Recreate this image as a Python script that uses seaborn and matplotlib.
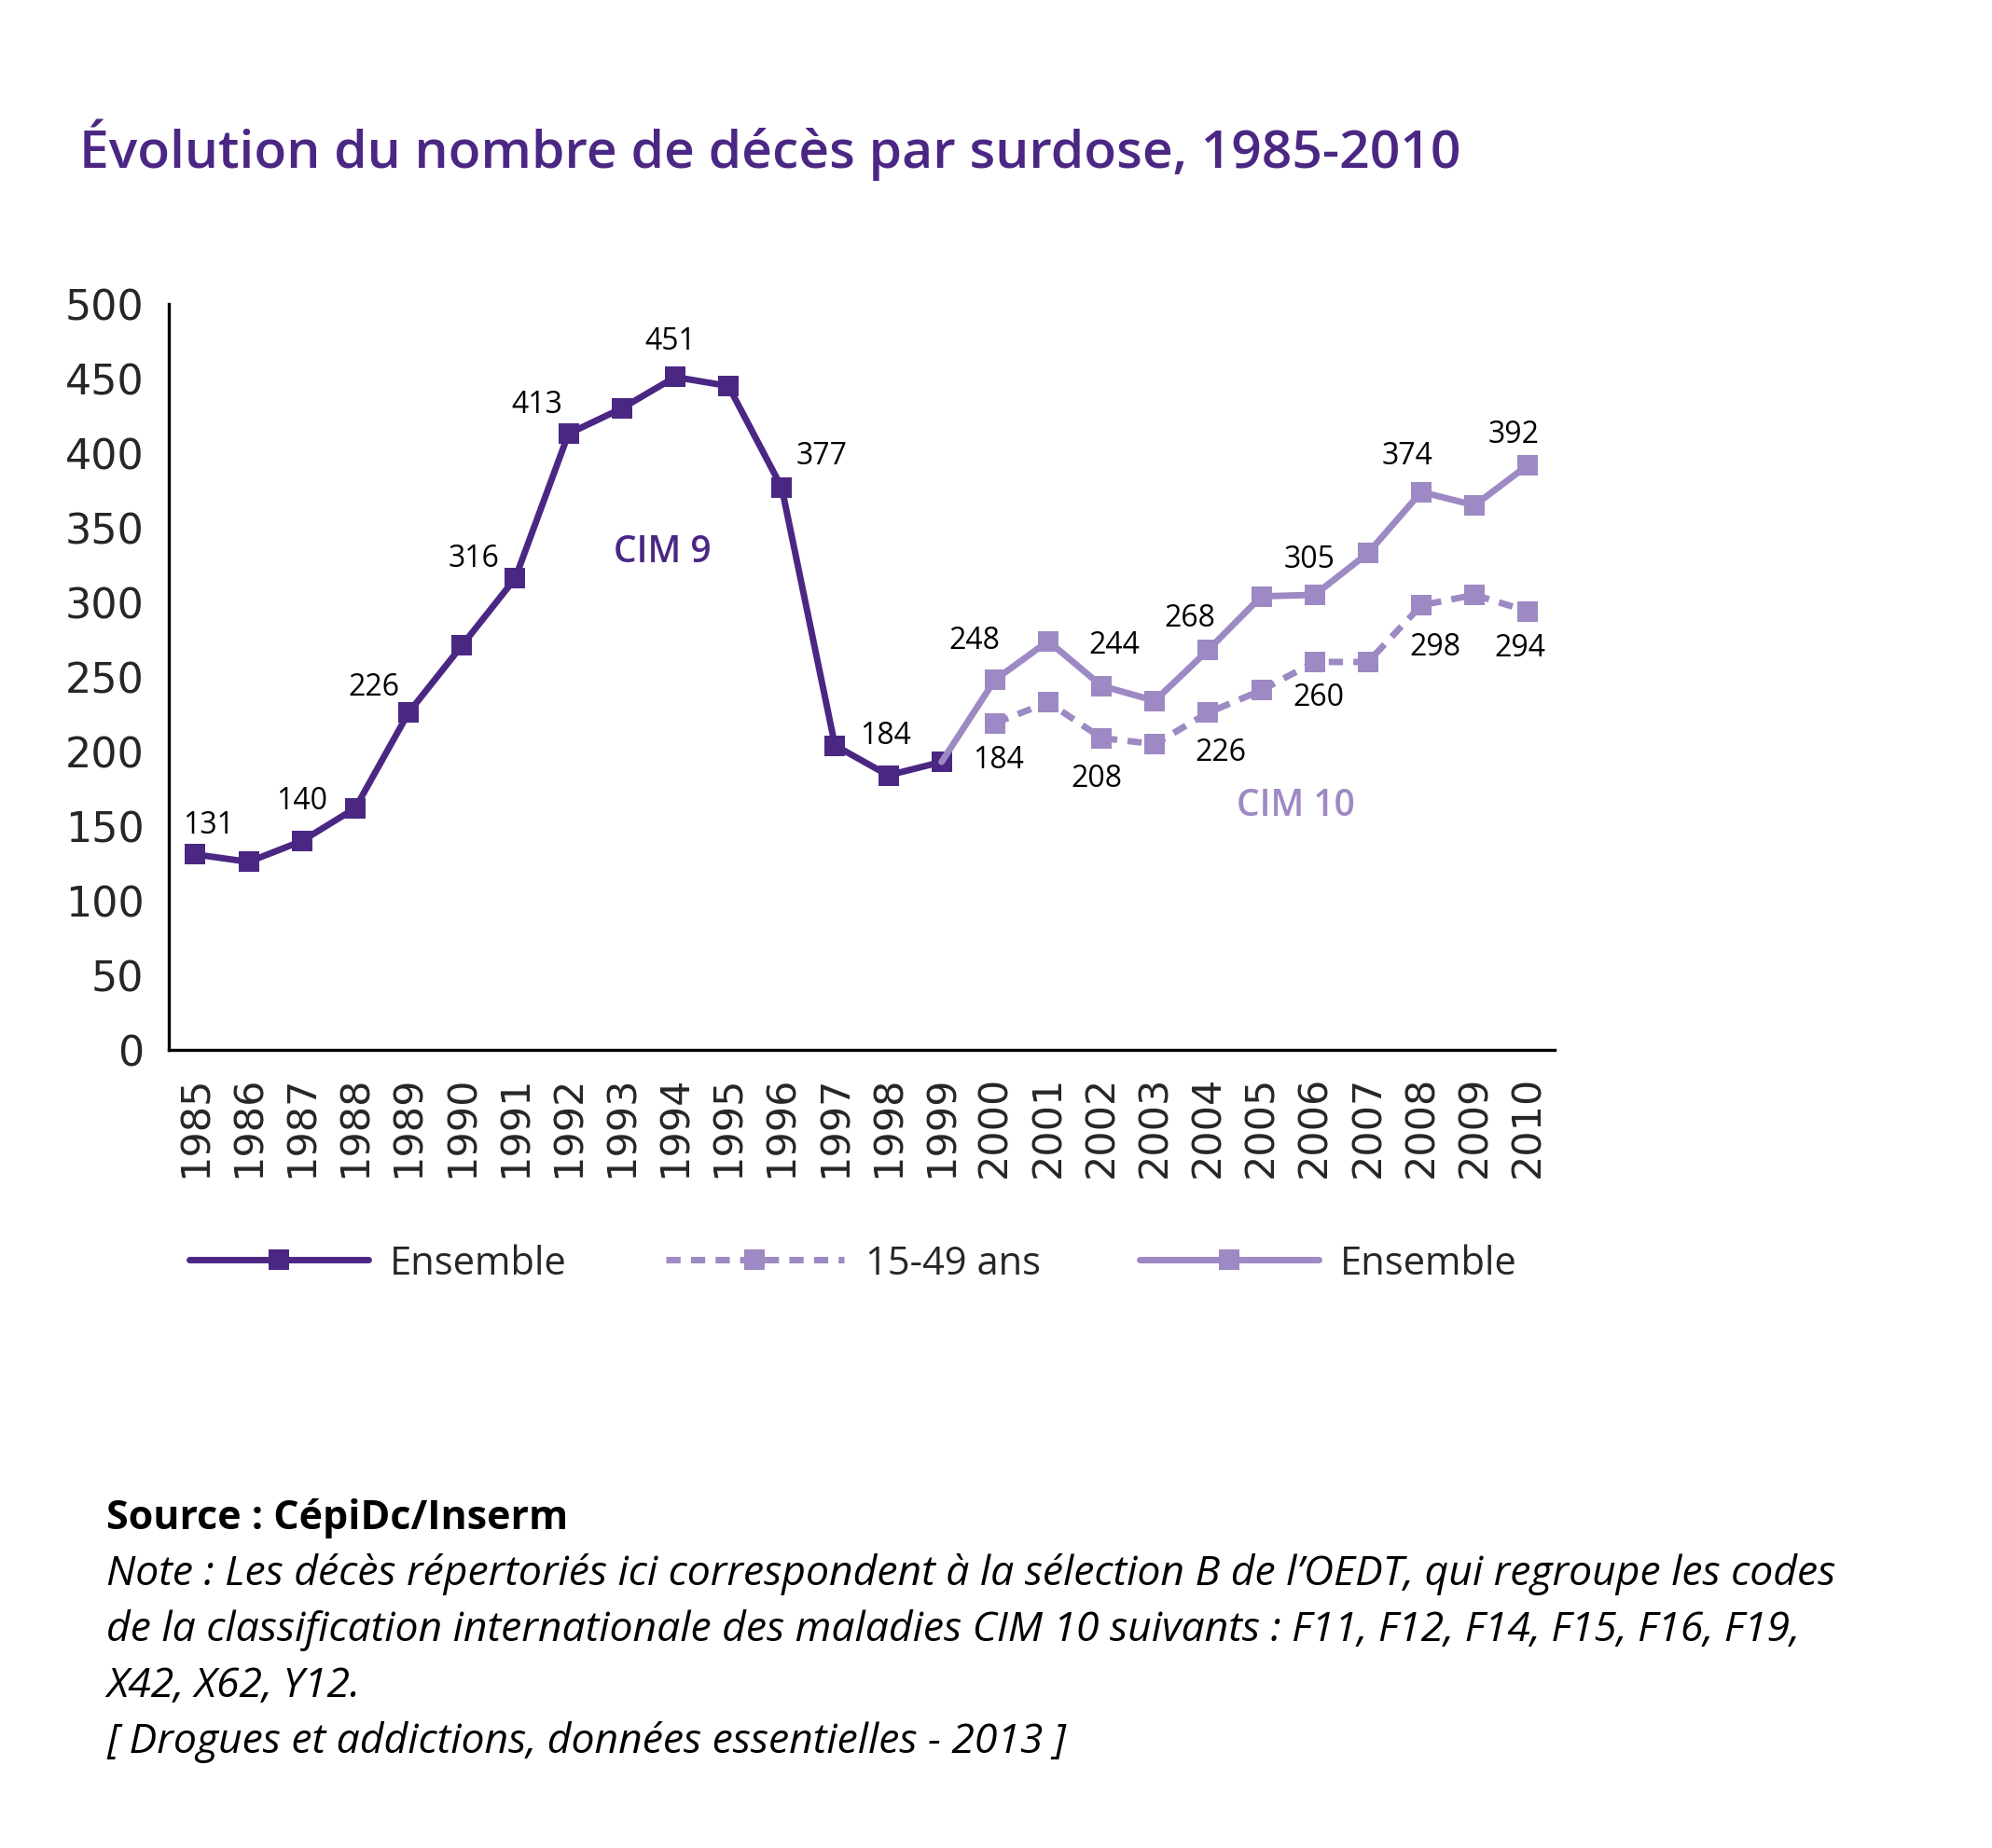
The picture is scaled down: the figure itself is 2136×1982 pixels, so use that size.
import numpy as np
import pandas as pd
import matplotlib
matplotlib.use("Agg")
import matplotlib.pyplot as plt
import seaborn as sns
from matplotlib.ticker import MultipleLocator, FixedLocator

# ------------------------------------------------------------
# Data
# ------------------------------------------------------------
years_cim9 = list(range(1985, 2000))
ensemble_cim9 = [131, 126, 140, 162, 226, 271, 316, 413, 430, 451, 445, 377, 204, 184, 193]

# CIM 10 line starts from the last CIM 9 point (1999)
years_cim10 = list(range(1999, 2011))
ensemble_cim10 = [193, 248, 274, 244, 234, 268, 304, 305, 333, 374, 365, 392]

years_1549 = list(range(2000, 2011))
ages_1549 = [219, 233, 209, 205, 226, 241, 260, 260, 298, 305, 294]

# value labels printed on the chart
labels_cim9_years = [1985, 1987, 1989, 1991, 1992, 1994, 1996, 1998]
labels_cim9_text = ["131", "140", "226", "316", "413", "451", "377", "184"]
labels_cim10_years = [2000, 2002, 2004, 2006, 2008, 2010]
labels_cim10_text = ["248", "244", "268", "305", "374", "392"]
labels_1549_years = [2000, 2002, 2004, 2006, 2008, 2010]
labels_1549_text = ["184", "208", "226", "260", "298", "294"]

# label offsets in points (styling only)
OFF_CIM9 = [(10, 23), (0, 31), (-27, 20), (-32, 16), (-24, 23), (-4, 28), (31, 25), (-2, 31)]
OFF_CIM10 = [(-16, 31), (10, 32), (-14, 25), (-4, 28), (-11, 28), (-11, 24)]
OFF_1549 = [(3, -28), (-4, -31), (10, -30), (3, -27), (11, -32), (-6, -28)]

# ------------------------------------------------------------
# Styling
# ------------------------------------------------------------
sns.set_style("white")
plt.rcParams["font.family"] = ["DejaVu Sans"]

DARK = "#4b2784"
LIGHT = "#9d89c3"
TEXTFONT = ["Open Sans", "DejaVu Sans"]

df_cim9 = pd.DataFrame({"year": years_cim9, "value": ensemble_cim9})
df_cim10 = pd.DataFrame({"year": years_cim10, "value": ensemble_cim10})
df_1549 = pd.DataFrame({"year": years_1549, "value": ages_1549})

fig = plt.figure(figsize=(21.36, 19.83), dpi=100)
ax = fig.add_axes([0.0847, 0.4317, 0.6957, 0.4034])

sns.lineplot(data=df_cim9, x="year", y="value", ax=ax, color=DARK,
             linewidth=5, marker="s", markersize=16, markeredgewidth=0,
             label="Ensemble", legend=False)
sns.lineplot(data=df_1549, x="year", y="value", ax=ax, color=LIGHT,
             linewidth=5, marker="s", markersize=16, markeredgewidth=0,
             dashes=False, label="15-49 ans", legend=False)
sns.lineplot(data=df_cim10, x="year", y="value", ax=ax, color=LIGHT,
             linewidth=5, marker="s", markersize=16, markeredgewidth=0,
             markevery=list(range(1, len(years_cim10))),
             label="Ensemble", legend=False)
lines = ax.get_lines()
lines[1].set_dashes([2.2, 1.6])

# value labels
for yrs, txts, offs, xs, ys in [
    (labels_cim9_years, labels_cim9_text, OFF_CIM9, years_cim9, ensemble_cim9),
    (labels_cim10_years, labels_cim10_text, OFF_CIM10, years_cim10, ensemble_cim10),
    (labels_1549_years, labels_1549_text, OFF_1549, years_1549, ages_1549),
]:
    lookup = dict(zip(xs, ys))
    for yr, txt, off in zip(yrs, txts, offs):
        ax.annotate(txt, (yr, lookup[yr]), xytext=off, textcoords="offset points",
                    ha="center", va="center", fontsize=23, family=TEXTFONT,
                    color="black", annotation_clip=False)

ax.text(1993.76, 334, "CIM 9", ha="center", va="center", fontsize=28,
        fontweight="semibold", color=DARK, family=TEXTFONT)
ax.text(2005.64, 164, "CIM 10", ha="center", va="center", fontsize=28,
        fontweight="semibold", color=LIGHT, family=TEXTFONT)

# axes
ax.set_xlim(1984.5, 2010.5)
ax.set_ylim(0, 500)
ax.set_xlabel("")
ax.set_ylabel("")
ax.xaxis.set_major_locator(FixedLocator(list(range(1985, 2011))))
ax.xaxis.set_minor_locator(FixedLocator([y + 0.5 for y in range(1984, 2011)]))
ax.yaxis.set_major_locator(MultipleLocator(50))
ax.set_xticklabels([str(y) for y in range(1985, 2011)], rotation=90)
ax.tick_params(axis="x", which="major", length=0, pad=19, labelsize=31)
ax.tick_params(axis="x", which="minor", direction="in", length=14, width=2.4,
               color="black")
ax.tick_params(axis="y", which="major", direction="in", length=13, width=2.4,
               pad=19, labelsize=32, color="black")
for side in ["top", "right"]:
    ax.spines[side].set_visible(False)
for side in ["left", "bottom"]:
    ax.spines[side].set_color("black")
    ax.spines[side].set_linewidth(2.4)
ax.grid(False)

# legend
leg = fig.legend(handles=[lines[0], lines[1], lines[2]],
                 labels=["Ensemble", "15-49 ans", "Ensemble"],
                 loc="center left", bbox_to_anchor=(203 / 2136, 1 - 1356 / 1983),
                 ncol=3, frameon=False, borderpad=0, borderaxespad=0,
                 handlelength=4.6, handletextpad=0.55, columnspacing=2.55,
                 numpoints=1, prop={"family": TEXTFONT, "size": 30})

# title and notes
fig.text(85 / 2136, 1 - 161 / 1983,
         "Évolution du nombre de décès par surdose, 1985-2010",
         fontsize=41, fontweight="semibold", color=DARK, family=TEXTFONT,
         ha="left", va="center")
fig.text(114 / 2136, 1 - 1628 / 1983, "Source : CépiDc/Inserm",
         fontsize=31, fontweight="bold", family=TEXTFONT, color="black",
         ha="left", va="center")
note_lines = [
    "Note : Les décès répertoriés ici correspondent à la sélection B de l’OEDT, qui regroupe les codes",
    "de la classification internationale des maladies CIM 10 suivants : F11, F12, F14, F15, F16, F19,",
    "X42, X62, Y12.",
    "[ Drogues et addictions, données essentielles - 2013 ]",
]
for i, line in enumerate(note_lines):
    fig.text(114 / 2136, 1 - (1689 + 60 * i) / 1983, line,
             fontsize=32, fontstyle="italic", family=TEXTFONT, color="black",
             ha="left", va="center")

plt.savefig("out.png", dpi=100, facecolor="white")
plt.close()
